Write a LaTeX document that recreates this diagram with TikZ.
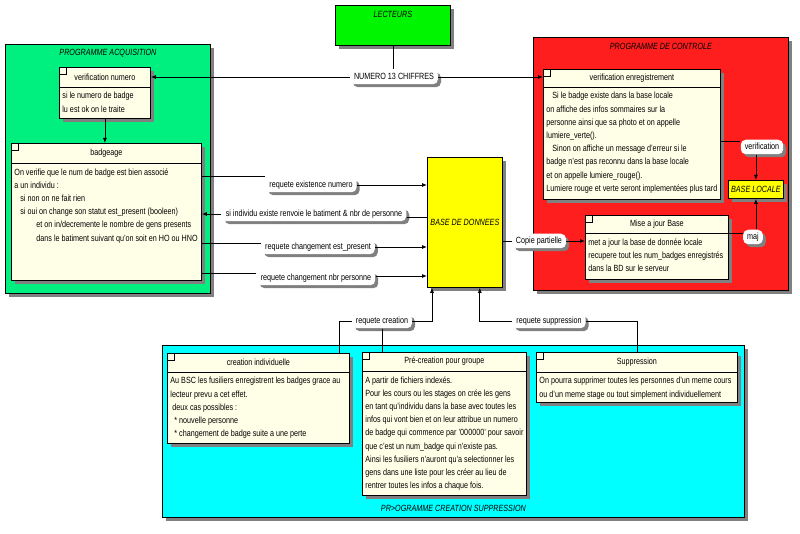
\documentclass[tikz,border=0pt]{standalone}
\usepackage{fontspec}
\setmainfont[FakeStretch=0.8]{Liberation Sans}
\usetikzlibrary{shadows,arrows.meta}

\definecolor{acqgreen}{RGB}{0,240,128}
\definecolor{lectgreen}{RGB}{0,245,0}
\definecolor{ctrlred}{RGB}{255,30,30}
\definecolor{crecyan}{RGB}{0,255,255}
\definecolor{bdyellow}{RGB}{255,255,0}
\definecolor{cream}{RGB}{255,255,232}
\definecolor{shade}{RGB}{128,128,128}

% name, corner, width, height, header, title, body
\newcommand{\classbox}[7]{%
  \node[classbox, minimum width=#3, minimum height=#4] (#1) at #2 {};
  \draw (#1.north west) rectangle ++(7,7);
  \draw ([yshift=-#5]#1.north west) -- ([yshift=-#5]#1.north east);
  \node at ([yshift=-#5/2]#1.north) {#6};
  \node[bodytext] at ([xshift=3pt,yshift=-#5-5pt]#1.north west) {#7};
}

\begin{document}
\begin{tikzpicture}[x=1pt, y=-1pt, line width=0.8pt,
  font=\fontsize{9}{13}\selectfont,
  >={Latex[length=5pt,width=4pt]},
  frame/.style={draw, anchor=north west, inner sep=0pt,
    drop shadow={shadow xshift=4pt, shadow yshift=-4pt, fill=shade, opacity=1}},
  classbox/.style={frame, fill=cream},
  frametitle/.style={font=\fontsize{9}{13}\selectfont\itshape},
  bodytext/.style={anchor=north west, align=left, inner sep=0pt,
    font=\fontsize{9}{13.2}\selectfont},
  tag/.style={fill=white, rounded corners=5pt, inner xsep=4pt, inner ysep=3pt,
    text height=6.5pt, text depth=2pt,
    drop shadow={shadow xshift=3pt, shadow yshift=-3pt, fill=shade, opacity=1}}]
\useasboundingbox (0,0) rectangle (800,534);

% big frames
\node[frame, fill=lectgreen, minimum width=115pt, minimum height=40pt] (lect) at (335,5) {};
\node[frametitle] at ([yshift=-9pt]lect.north) {LECTEURS};
\node[frame, fill=acqgreen, minimum width=205pt, minimum height=249pt] (acq) at (5,44) {};
\node[frametitle] at ([yshift=-9pt]acq.north) {PROGRAMME ACQUISITION};
\node[frame, fill=ctrlred, minimum width=255pt, minimum height=253pt] (ctrl) at (533,37) {};
\node[frametitle] at ([yshift=-9pt]ctrl.north) {PROGRAMME DE CONTROLE};
\node[frame, fill=crecyan, minimum width=582pt, minimum height=172pt] (cre) at (162,345) {};
\node[frametitle] at ([yshift=9pt]cre.south) {PR>OGRAMME CREATION SUPPRESSION};
\node[frame, fill=bdyellow, minimum width=75pt, minimum height=130pt, frametitle] (bd) at (427,157) {BASE DE DONNEES};
\node[frame, fill=bdyellow, minimum width=55pt, minimum height=18pt, frametitle] (baseloc) at (728,180) {BASE LOCALE};

% boxes
\classbox{vnum}{(59,67)}{91pt}{51pt}{20pt}{verification numero}
  {si le numero de badge\\lu est ok on le traite}
\classbox{badge}{(11,143)}{190pt}{137pt}{20pt}{badgeage}
  {On verifie que le num de badge est bien associé\\
   a un individu :\\
   \hspace*{6pt}si non on ne fait rien\\
   \hspace*{6pt}si oui on change son statut est\_present (booleen)\\
   \hspace*{22pt}et on in/decremente le nombre de gens presents\\
   \hspace*{22pt}dans le batiment suivant qu'on soit en HO ou HNO}
\classbox{venr}{(543,69)}{177pt}{130pt}{18pt}{verification enregistrement}
  {\hspace*{6pt}Si le badge existe dans la base locale\\
   on affiche des infos sommaires sur la\\
   personne ainsi que sa photo et on appelle\\
   lumiere\_verte().\\
   \hspace*{6pt}Sinon on affiche un message d'erreur si le\\
   badge n'est pas reconnu dans la base locale\\
   et on appelle lumiere\_rouge().\\
   Lumiere rouge et verte seront implementées plus tard}
\classbox{mjb}{(585,215)}{143pt}{64pt}{18pt}{Mise a jour Base}
  {met a jour la base de donnée locale\\
   recupere tout les num\_badges enregistrés\\
   dans la BD sur le serveur}
\classbox{cind}{(167,353)}{182pt}{90pt}{19pt}{creation individuelle}
  {Au BSC les fusiliers enregistrent les badges grace au\\
   lecteur prevu a cet effet.\\
   \hspace*{2pt}deux cas possibles :\\
   \hspace*{4pt}* nouvelle personne\\
   \hspace*{4pt}* changement de badge suite a une perte}
\classbox{pgrp}{(362,352)}{164pt}{143pt}{19pt}{Pré-creation pour groupe}
  {A partir de fichiers indexés.\\
   Pour les cours ou les stages on crée les gens\\
   en tant qu'individu dans la base avec toutes les\\
   infos qui vont bien et on leur attribue un numero\\
   de badge qui commence par '000000' pour savoir\\
   que c'est un num\_badge qui n'existe pas.\\
   Ainsi les fusiliers n'auront qu'a selectionner les\\
   gens dans une liste pour les créer au lieu de\\
   rentrer toutes les infos a chaque fois.}
\classbox{supp}{(536,352)}{201pt}{50pt}{20pt}{Suppression}
  {On pourra supprimer toutes les personnes d'un meme cours\\
   ou d'un meme stage ou tout simplement individuellement}

% connector labels
\node[tag] (num13) at (394,77) {NUMERO 13 CHIFFRES};
\node[tag] (reqexist) at (311,185) {requete existence numero};
\node[tag] (renvoie) at (314,214) {si individu existe renvoie le batiment \& nbr de personne};
\node[tag] (reqpres) at (318,247) {requete changement est\_present};
\node[tag] (reqnbr) at (316,278) {requete changement nbr personne};
\node[tag] (copie) at (539,241) {Copie partielle};
\node[tag] (verifl) at (762,147) {verification};
\node[tag] (majl) at (753,237) {maj};
\node[tag] (reqcre) at (382,321) {requete creation};
\node[tag] (reqsup) at (549,321) {requete suppression};

% connectors
\draw[shade] (lect.south) -- (lect.south |- num13.north);
\draw[->] (num13.west) -- (num13.west -| vnum.east);
\draw[->] (num13.east) -- (num13.east -| venr.west);
\draw[->] (vnum) -- (vnum |- badge.north);
\draw ([yshift=9pt]reqexist.west) -- ([yshift=9pt]reqexist.west -| badge.east);
\draw[->] (reqexist.east) -- (reqexist.east -| bd.west);
\draw[->] (renvoie.west) -- (renvoie.west -| badge.east);
\draw ([yshift=-3pt]renvoie.east) -- ([yshift=-3pt]renvoie.east -| bd.west);
\draw ([yshift=4pt]reqpres.west) -- ([yshift=4pt]reqpres.west -| badge.east);
\draw[->] (reqpres.east) -- (reqpres.east -| bd.west);
\draw ([yshift=5pt]reqnbr.west) -- ([yshift=5pt]reqnbr.west -| badge.east);
\draw[->] ([yshift=2pt]reqnbr.east) -- ([yshift=2pt]reqnbr.east -| bd.west);
\draw (copie.west) -- (copie.west -| bd.east);
\draw[->] (copie.east) -- (copie.east -| mjb.west);
\draw ([yshift=6pt]verifl.west) -- ([yshift=6pt]verifl.west -| venr.east);
\draw[->] (baseloc.north |- verifl.south) -- (baseloc.north);
\draw ([yshift=4pt]majl.west) -- ([yshift=4pt]majl.west -| mjb.east);
\draw[->] (baseloc.south |- majl.north) -- (baseloc.south);
\draw ([xshift=-10pt]cind.north east) |- (reqcre.west);
\draw (reqcre.south) -- (reqcre.south |- pgrp.north);
\draw[->] (reqcre.east) -| ([xshift=5pt]bd.south west);
\draw[->] (reqsup.west) -| ([xshift=-23pt]bd.south east);
\draw (reqsup.east) -| (supp.north);
\end{tikzpicture}
\end{document}
